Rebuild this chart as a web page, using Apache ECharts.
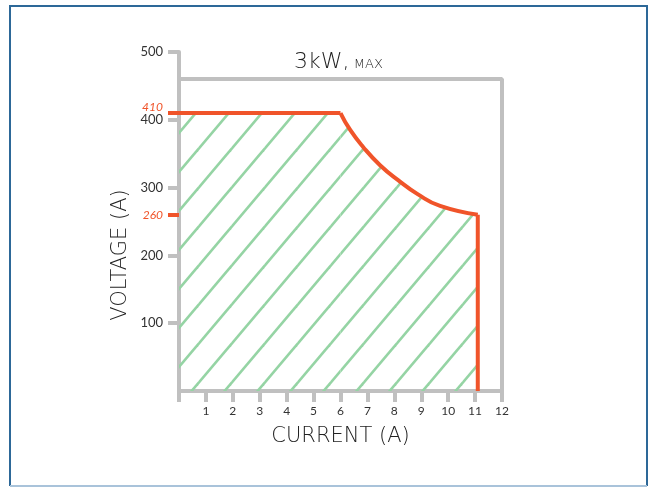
<!DOCTYPE html>
<html><head><meta charset="utf-8">
<script src="https://cdn.jsdelivr.net/npm/echarts@6/dist/echarts.min.js"></script>
<style>html,body{margin:0;padding:0;background:#fff}#c{width:649px;height:487px}</style>
</head><body><div id="c"></div>
<script>
// ---- data ----
const xTicks = [0,1,2,3,4,5,6,7,8,9,10,11,12];
const yTicks = [100,200,300,400,500];
const markedVoltages = [260,410];
const flatLimit = [[0,410],[6,410]];
const powerCurve = [[6,410],[6.36,385],[6.84,360],[7.47,333],[8.14,311],[8.88,290],[9.7,273],[11.1,260]];
const currentLimit = [[11.1,260],[11.1,0]];
const boxOutline = [[0,460],[12,460],[12,0]];
const titleMain = '3kW,';
const titleSub = 'MAX';
const xName = 'CURRENT (A)';
const yName = 'VOLTAGE (A)';

// ---- style ----
const GRAY = '#c0c0c0', ORANGE = '#f0542a', GREEN = '#95d4a4';
const FONT = 'Lato';
const NFONT = 'DejaVu Sans';

function hatch(){
  const w=33,h=39,c=document.createElement('canvas');
  c.width=w;c.height=h;
  const g=c.getContext('2d');
  g.strokeStyle=GREEN;g.lineWidth=2.6;
  [1070-1287,1070,1070+1287].forEach(k=>{
    g.beginPath();
    g.moveTo(-10,(k+390)/33);
    g.lineTo(50,(k-1950)/33);
    g.stroke();
  });
  return {image:c,repeat:'repeat'};
}
const pat = hatch();

const chart = echarts.init(document.getElementById('c'), null, {renderer:'canvas'});
chart.setOption({
  animation:false,
  textStyle:{fontFamily:FONT},
  graphic:[
    {type:'polyline',shape:{points:[[10,486],[10,6],[647,6],[647,486]]},style:{stroke:'#2d6898',lineWidth:2,fill:null},silent:true},
    {type:'line',shape:{x1:10,y1:486,x2:647,y2:486},style:{stroke:'#a9c3da',lineWidth:2},silent:true},
    {type:'text',x:121,y:255,rotation:Math.PI/2,silent:true,
      style:{text:yName,fill:'#222',font:'200 21px "'+NFONT+'"',align:'center',verticalAlign:'middle'}}
  ],
  title:{
    text:'{a|'+titleMain+'} {b|'+titleSub+'}',
    left:289, top:46,
    textStyle:{rich:{
      a:{fontFamily:NFONT,fontWeight:200,fontSize:22,color:'#222',verticalAlign:'bottom'},
      b:{fontFamily:NFONT,fontWeight:200,fontSize:13,color:'#222',verticalAlign:'bottom',padding:[0,0,2,0]}
    }}
  },
  grid:{left:179,right:147,top:52,bottom:96,containLabel:false},
  xAxis:{
    type:'value',min:0,max:12,interval:1,
    name:xName,nameLocation:'middle',nameGap:35,
    nameTextStyle:{fontFamily:NFONT,fontWeight:200,fontSize:21,color:'#222'},
    axisLine:{show:true,onZero:false,lineStyle:{color:GRAY,width:4}},
    axisTick:{show:true,length:11,inside:false,lineStyle:{color:GRAY,width:4}},
    axisLabel:{margin:14,fontSize:12,color:'#333',fontFamily:FONT,
      customValues:xTicks.filter(v=>v>0)},
    splitLine:{show:false}
  },
  yAxis:[{
    type:'value',min:0,max:500,interval:100,
    axisLine:{show:true,lineStyle:{color:GRAY,width:4}},
    axisTick:{show:true,length:11,inside:false,lineStyle:{color:GRAY,width:4},customValues:yTicks},
    axisLabel:{margin:16,fontSize:13,color:'#333',fontFamily:FONT,customValues:yTicks},
    splitLine:{show:false}
  },{
    type:'value',min:0,max:500,position:'left',
    axisLine:{show:false},
    axisTick:{show:true,length:11,inside:false,lineStyle:{color:ORANGE,width:4},customValues:markedVoltages},
    axisLabel:{margin:16,color:ORANGE,customValues:markedVoltages,
      formatter:v=> v===410 ? '{up|'+v+'}' : '{n|'+v+'}',
      rich:{
        up:{fontSize:12,fontStyle:'italic',color:ORANGE,fontFamily:FONT,padding:[0,0,12,0]},
        n:{fontSize:12,fontStyle:'italic',color:ORANGE,fontFamily:FONT}
      }},
    splitLine:{show:false}
  }],
  series:[
    {type:'line',data:boxOutline,symbol:'none',lineStyle:{color:GRAY,width:4},z:1,silent:true},
    {type:'line',data:flatLimit,symbol:'none',lineStyle:{color:ORANGE,width:4},areaStyle:{color:pat,opacity:1},z:3},
    {type:'line',data:powerCurve,symbol:'none',smooth:0.5,lineStyle:{color:ORANGE,width:4},areaStyle:{color:pat,opacity:1},z:3},
    {type:'line',data:currentLimit,symbol:'none',lineStyle:{color:ORANGE,width:4},z:3}
  ]
});
</script></body></html>
